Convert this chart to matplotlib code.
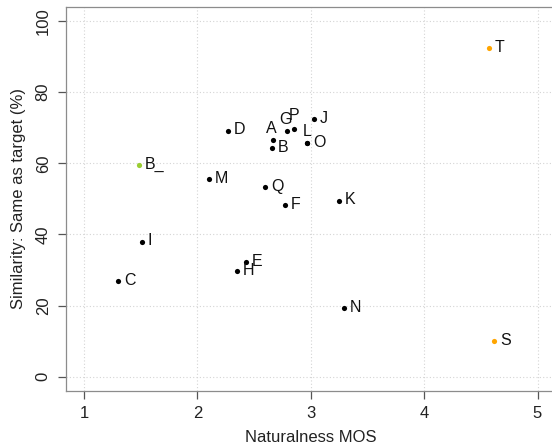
import matplotlib
matplotlib.use("Agg")
import matplotlib.pyplot as plt

plt.rcParams['font.family'] = ['Liberation Sans', 'DejaVu Sans']

# ==== data ====
labels = ['A', 'B', 'C', 'D', 'E', 'F', 'G', 'H', 'I', 'J',
          'K', 'L', 'M', 'N', 'O', 'P', 'Q', 'S', 'T', 'B_']
naturalness = [2.67, 2.66, 1.30, 2.27, 2.43, 2.77, 2.79, 2.35, 1.51, 3.03,
               3.25, 2.97, 2.10, 3.29, 2.97, 2.85, 2.60, 4.62, 4.57, 1.48]
similarity = [66.6, 64.2, 26.8, 69.2, 32.3, 48.3, 69.1, 29.6, 38.0, 72.4,
              49.5, 65.8, 55.6, 19.4, 65.8, 69.6, 53.3, 10.0, 92.5, 59.6]
groups = ['sys'] * 17 + ['nat', 'nat', 'ref']

group_colors = {'sys': 'black', 'nat': '#FFA500', 'ref': '#9ACD32'}
# labels that sit above their dot instead of to the right (offset in points)
label_shift = {'A': (-1.5, 8), 'G': (-1, 8.5), 'P': (0, 10), 'L': (-0.5, 8)}

fig = plt.figure(figsize=(5.52, 4.45), dpi=100)
ax = fig.add_axes([0.1196, 0.1213, 0.887, 0.8634])

for xi, yi, lab, g in zip(naturalness, similarity, labels, groups):
    ax.scatter(xi, yi, s=14, color=group_colors[g], linewidths=0, zorder=3)
    if lab in label_shift:
        dx, dy = label_shift[lab]
        ax.annotate(lab, (xi, yi), xytext=(dx, dy), textcoords='offset points',
                    ha='center', va='center', fontsize=11.5, color='#111111')
    else:
        ax.annotate(lab, (xi, yi), xytext=(4.2, 0.5), textcoords='offset points',
                    ha='left', va='center', fontsize=11.5, color='#111111')

ax.set_xlim(0.84, 5.16)
ax.set_ylim(-4, 104)
ax.set_xticks([1, 2, 3, 4, 5])
ax.set_yticks([0, 20, 40, 60, 80, 100])
ax.grid(True, linestyle=(0, (1, 2)), color='#d4d4d4', linewidth=0.8)
ax.set_axisbelow(True)

for side in ['left', 'bottom', 'top']:
    ax.spines[side].set_color('#8c8c8c')
    ax.spines[side].set_linewidth(0.9)
# the reference is cropped just before the right border
ax.spines['right'].set_visible(False)

ax.tick_params(axis='both', direction='out', length=6, width=0.9,
               color='#555555', labelsize=12, labelcolor='#222222', pad=5)
for t in ax.get_yticklabels():
    t.set_rotation(90)
    t.set_va('center')

ax.set_xlabel('Naturalness MOS', fontsize=12, color='#222222', labelpad=6)
ax.set_ylabel('Similarity: Same as target (%)', fontsize=12, color='#222222', labelpad=7)

fig.savefig('out.png', dpi=100)
